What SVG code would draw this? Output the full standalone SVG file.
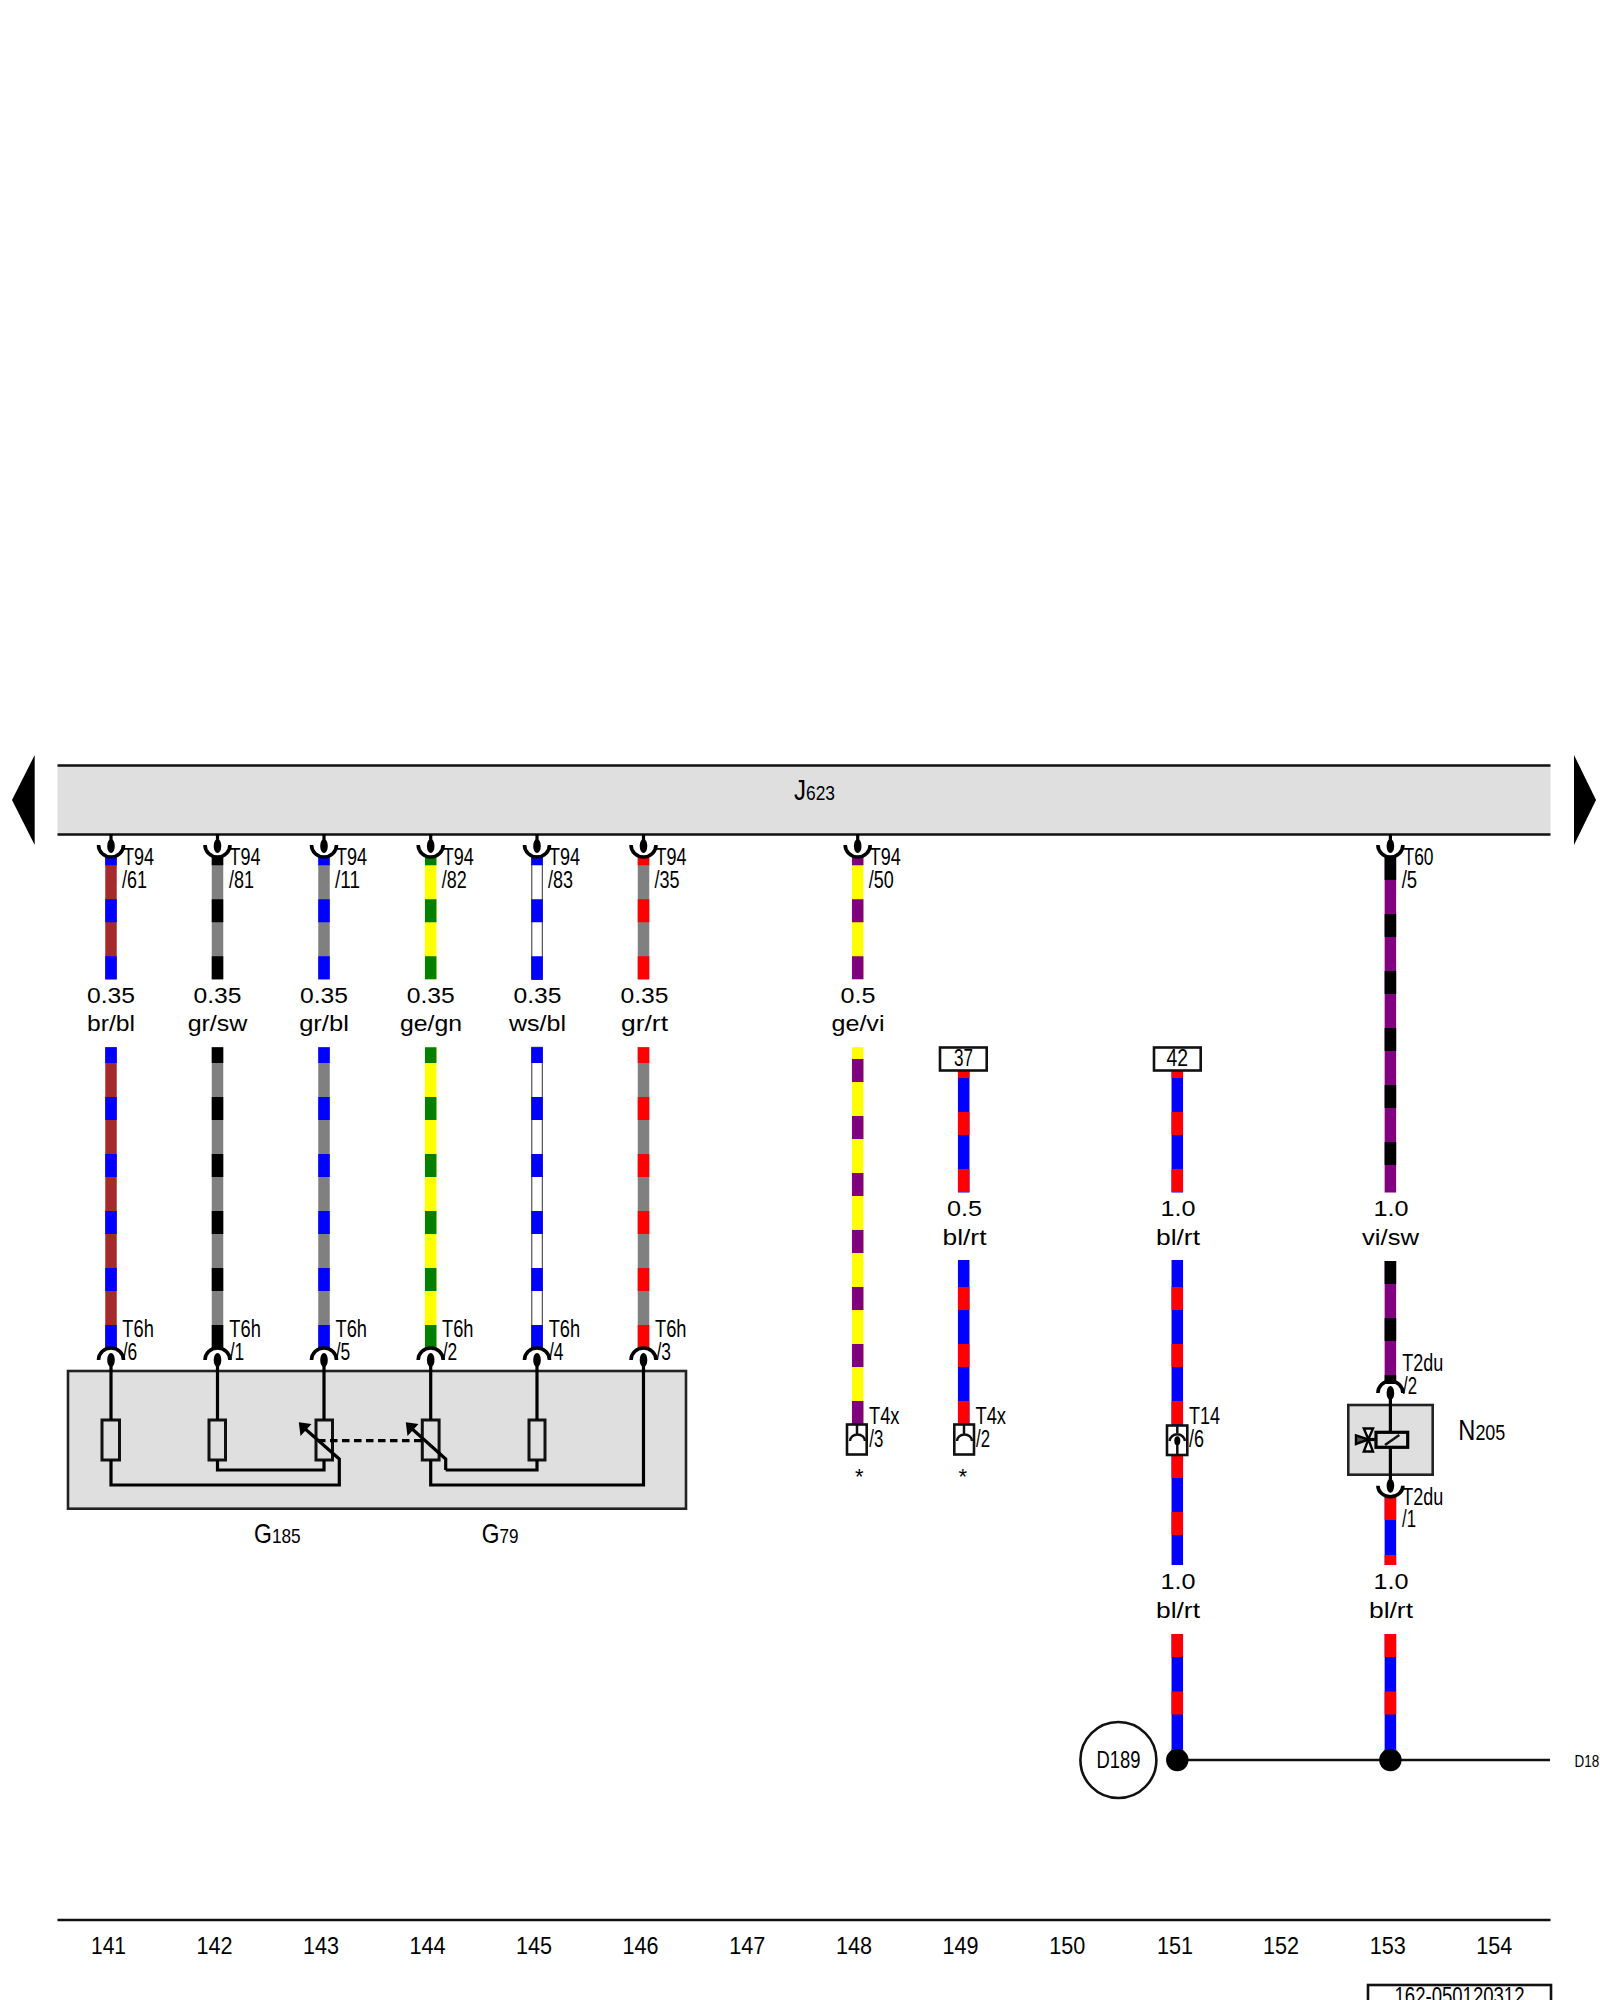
<svg xmlns="http://www.w3.org/2000/svg" xmlns:xlink="http://www.w3.org/1999/xlink" width="1600" height="2000" viewBox="0 0 1600 2000">
<style>
text{font-family:"Liberation Sans",Arial,sans-serif;fill:#000}
.t{font-size:23px}
.s{font-size:21.5px;text-anchor:middle}
.n{font-size:23px;text-anchor:middle}
.w{stroke-width:11.5;fill:none}
.bl{stroke:#0000ff}.br{stroke:#a52a2a}.gr{stroke:#808080}.sw{stroke:#000}.ge{stroke:#ffff00}.gn{stroke:#008000}.ws{stroke:#fff}.rt{stroke:#ff0000}.vi{stroke:#800080}
.up{stroke-dasharray:23 34;stroke-dashoffset:13.7}
.lo{stroke-dasharray:23 34;stroke-dashoffset:7.3}
.k{stroke:#000;stroke-width:3.2;fill:none}
.h{stroke:#111;stroke-width:2.5;fill:none}
.b{stroke:#222;stroke-width:2.6;fill:#dfdfdf}
.r{stroke:#111;stroke-width:3;fill:#dfdfdf}
.c{stroke:#000;stroke-width:3.6;fill:none}
.e{fill:#000}
</style>
<defs>
<g id="pinU"><path class="c" d="M-12.5 0A12.5 12 0 0 0 12.5 0"/><ellipse class="e" cx="0" cy="1" rx="3.8" ry="7"/><line class="k" x1="0" y1="-11" x2="0" y2="0"/></g>
<g id="pinN"><path class="c" d="M-12.5 0A12.5 12 0 0 1 12.5 0"/><ellipse class="e" cx="0" cy="0" rx="3.8" ry="7"/></g>
</defs>
<rect width="1600" height="2000" fill="#fff"/>

<g id="J623">
<rect x="57.5" y="766" width="1493" height="68" fill="#dfdfdf"/>
<line class="h" x1="57.5" y1="765.5" x2="1550.5" y2="765.5"/>
<line class="h" x1="57.5" y1="834.5" x2="1550.5" y2="834.5"/>
<text x="794" y="800" textLength="41" lengthAdjust="spacingAndGlyphs"><tspan font-size="29">J</tspan><tspan font-size="21">623</tspan></text>
</g>
<g id="page-arrows">
<polygon points="12,800 34.7,755 34.7,845" fill="#000"/>
<polygon points="1596,800 1574,755 1574,845" fill="#000"/>
</g>

<g id="G185-G79">
<rect class="b" x="68" y="1371" width="618" height="137.7"/>
<rect class="r" x="102" y="1420" width="17.5" height="40"/>
<rect class="r" x="209" y="1420" width="16.5" height="40"/>
<rect class="r" x="316" y="1420" width="16.5" height="40"/>
<rect class="r" x="422.3" y="1420" width="16.8" height="40"/>
<rect class="r" x="529" y="1420" width="16" height="40"/>
<path class="k" d="M111 1360V1420M111 1460V1485H339.3V1459L303 1427"/>
<path class="k" d="M217.5 1360V1420M217.5 1460V1470H324V1460M324 1360V1420"/>
<path class="k" d="M430.7 1360V1420M430.7 1460V1485H643.5V1360M445.7 1470V1459L410 1427M445.7 1470H537V1460M537 1360V1420"/>
<polygon points="298.8,1422.3 311.5,1424 300.5,1436" fill="#000"/>
<polygon points="405.8,1422.3 418.5,1424 407.5,1436" fill="#000"/>
<line class="k" x1="318" y1="1440.7" x2="422" y2="1440.7" stroke-dasharray="7.5 4.5"/>
<text x="254" y="1542.7" textLength="46.7" lengthAdjust="spacingAndGlyphs"><tspan font-size="28">G</tspan><tspan font-size="21">185</tspan></text>
<text x="481.7" y="1542.7" textLength="36.7" lengthAdjust="spacingAndGlyphs"><tspan font-size="28">G</tspan><tspan font-size="21">79</tspan></text>
</g>

<g id="connectors">
<line class="w br" x1="111" y1="856" x2="111" y2="979.5"/><line class="w bl up" x1="111" y1="856" x2="111" y2="979.5"/>
<line class="w br" x1="111" y1="1047.3" x2="111" y2="1348.5"/><line class="w bl lo" x1="111" y1="1047.3" x2="111" y2="1348.5"/>
<line class="w gr" x1="217.5" y1="856" x2="217.5" y2="979.5"/><line class="w sw up" x1="217.5" y1="856" x2="217.5" y2="979.5"/>
<line class="w gr" x1="217.5" y1="1047.3" x2="217.5" y2="1348.5"/><line class="w sw lo" x1="217.5" y1="1047.3" x2="217.5" y2="1348.5"/>
<line class="w gr" x1="324" y1="856" x2="324" y2="979.5"/><line class="w bl up" x1="324" y1="856" x2="324" y2="979.5"/>
<line class="w gr" x1="324" y1="1047.3" x2="324" y2="1348.5"/><line class="w bl lo" x1="324" y1="1047.3" x2="324" y2="1348.5"/>
<line class="w ge" x1="430.7" y1="856" x2="430.7" y2="979.5"/><line class="w gn up" x1="430.7" y1="856" x2="430.7" y2="979.5"/>
<line class="w ge" x1="430.7" y1="1047.3" x2="430.7" y2="1348.5"/><line class="w gn lo" x1="430.7" y1="1047.3" x2="430.7" y2="1348.5"/>
<rect x="531.8" y="856" width="10.5" height="123.5" fill="#fff" stroke="#333" stroke-width="1"/><line class="w bl up" x1="537" y1="856" x2="537" y2="979.5"/>
<rect x="531.8" y="1047.3" width="10.5" height="301.2" fill="#fff" stroke="#333" stroke-width="1"/><line class="w bl lo" x1="537" y1="1047.3" x2="537" y2="1348.5"/>
<line class="w gr" x1="643.5" y1="856" x2="643.5" y2="979.5"/><line class="w rt up" x1="643.5" y1="856" x2="643.5" y2="979.5"/>
<line class="w gr" x1="643.5" y1="1047.3" x2="643.5" y2="1348.5"/><line class="w rt lo" x1="643.5" y1="1047.3" x2="643.5" y2="1348.5"/>
<line class="w ge" x1="857.7" y1="856" x2="857.7" y2="979.5"/><line class="w vi up" x1="857.7" y1="856" x2="857.7" y2="979.5"/>
<line class="w ge" x1="857.7" y1="1047.3" x2="857.7" y2="1424"/><line class="w vi" x1="857.7" y1="1047.3" x2="857.7" y2="1424" stroke-dasharray="23 34" stroke-dashoffset="45.3"/>
<line class="w bl" x1="963.7" y1="1070" x2="963.7" y2="1192.6"/><line class="w rt" x1="963.7" y1="1070" x2="963.7" y2="1192.6" stroke-dasharray="23 34" stroke-dashoffset="15"/>
<line class="w bl" x1="963.7" y1="1260" x2="963.7" y2="1424"/><line class="w rt" x1="963.7" y1="1260" x2="963.7" y2="1424" stroke-dasharray="23 34" stroke-dashoffset="30"/>
<line class="w bl" x1="1177.3" y1="1070" x2="1177.3" y2="1192.6"/><line class="w rt" x1="1177.3" y1="1070" x2="1177.3" y2="1192.6" stroke-dasharray="23 34" stroke-dashoffset="15"/>
<line class="w bl" x1="1177.3" y1="1260" x2="1177.3" y2="1425"/><line class="w rt" x1="1177.3" y1="1260" x2="1177.3" y2="1425" stroke-dasharray="23 34" stroke-dashoffset="30"/>
<line class="w bl" x1="1177.3" y1="1455" x2="1177.3" y2="1565"/><line class="w rt" x1="1177.3" y1="1455" x2="1177.3" y2="1565" stroke-dasharray="23 34"/>
<line class="w bl" x1="1177.3" y1="1634" x2="1177.3" y2="1760"/><line class="w rt" x1="1177.3" y1="1634" x2="1177.3" y2="1760" stroke-dasharray="23 34.5"/>
<line class="w vi" x1="1390.4" y1="857" x2="1390.4" y2="1192.6"/><line class="w sw" x1="1390.4" y1="857" x2="1390.4" y2="1192.6" stroke-dasharray="23 34"/>
<line class="w vi" x1="1390.4" y1="1261" x2="1390.4" y2="1384"/><line class="w sw" x1="1390.4" y1="1261" x2="1390.4" y2="1384" stroke-dasharray="23 34"/>
<line class="w bl" x1="1390.4" y1="1495" x2="1390.4" y2="1565"/><line class="w rt" x1="1390.4" y1="1495" x2="1390.4" y2="1565" stroke-dasharray="25 35"/>
<line class="w bl" x1="1390.4" y1="1634" x2="1390.4" y2="1760"/><line class="w rt" x1="1390.4" y1="1634" x2="1390.4" y2="1760" stroke-dasharray="23 34.5"/>
<line class="h" x1="1177.3" y1="1760" x2="1550" y2="1760"/>
</g>

<g id="connector-T94">
<use xlink:href="#pinU" href="#pinU" x="111" y="845"/>
<use xlink:href="#pinU" href="#pinU" x="217.5" y="845"/>
<use xlink:href="#pinU" href="#pinU" x="324" y="845"/>
<use xlink:href="#pinU" href="#pinU" x="430.7" y="845"/>
<use xlink:href="#pinU" href="#pinU" x="537" y="845"/>
<use xlink:href="#pinU" href="#pinU" x="643.5" y="845"/>
<use xlink:href="#pinU" href="#pinU" x="857.7" y="845"/>
<text class="t" x="123" y="865" textLength="31" lengthAdjust="spacingAndGlyphs">T94</text><text class="t" x="122" y="888.3" textLength="25" lengthAdjust="spacingAndGlyphs">/61</text>
<text class="t" x="229.5" y="865" textLength="31" lengthAdjust="spacingAndGlyphs">T94</text><text class="t" x="229" y="888.3" textLength="25" lengthAdjust="spacingAndGlyphs">/81</text>
<text class="t" x="336" y="865" textLength="31" lengthAdjust="spacingAndGlyphs">T94</text><text class="t" x="335" y="888.3" textLength="25" lengthAdjust="spacingAndGlyphs">/11</text>
<text class="t" x="442.7" y="865" textLength="31" lengthAdjust="spacingAndGlyphs">T94</text><text class="t" x="441.7" y="888.3" textLength="25" lengthAdjust="spacingAndGlyphs">/82</text>
<text class="t" x="549" y="865" textLength="31" lengthAdjust="spacingAndGlyphs">T94</text><text class="t" x="548" y="888.3" textLength="25" lengthAdjust="spacingAndGlyphs">/83</text>
<text class="t" x="655.5" y="865" textLength="31" lengthAdjust="spacingAndGlyphs">T94</text><text class="t" x="654.5" y="888.3" textLength="25" lengthAdjust="spacingAndGlyphs">/35</text>
<text class="t" x="869.7" y="865" textLength="31" lengthAdjust="spacingAndGlyphs">T94</text><text class="t" x="868.7" y="888.3" textLength="25" lengthAdjust="spacingAndGlyphs">/50</text>
</g>
<g id="connector-T60">
<use xlink:href="#pinU" href="#pinU" x="1390.4" y="845"/>
<text class="t" x="1403.5" y="865" textLength="30" lengthAdjust="spacingAndGlyphs">T60</text><text class="t" x="1401.7" y="888.3" textLength="15.5" lengthAdjust="spacingAndGlyphs">/5</text>
</g>

<g id="connector-T6h">
<use xlink:href="#pinN" href="#pinN" x="111" y="1360"/>
<use xlink:href="#pinN" href="#pinN" x="217.5" y="1360"/>
<use xlink:href="#pinN" href="#pinN" x="324" y="1360"/>
<use xlink:href="#pinN" href="#pinN" x="430.7" y="1360"/>
<use xlink:href="#pinN" href="#pinN" x="537" y="1360"/>
<use xlink:href="#pinN" href="#pinN" x="643.5" y="1360"/>
<text class="t" x="122.3" y="1336.7" textLength="31.5" lengthAdjust="spacingAndGlyphs">T6h</text><text class="t" x="122.7" y="1360" textLength="14.5" lengthAdjust="spacingAndGlyphs">/6</text>
<text class="t" x="229.3" y="1336.7" textLength="31.5" lengthAdjust="spacingAndGlyphs">T6h</text><text class="t" x="229.7" y="1360" textLength="14.5" lengthAdjust="spacingAndGlyphs">/1</text>
<text class="t" x="335.5" y="1336.7" textLength="31.5" lengthAdjust="spacingAndGlyphs">T6h</text><text class="t" x="335.7" y="1360" textLength="14.5" lengthAdjust="spacingAndGlyphs">/5</text>
<text class="t" x="442" y="1336.7" textLength="31.5" lengthAdjust="spacingAndGlyphs">T6h</text><text class="t" x="442.7" y="1360" textLength="14.5" lengthAdjust="spacingAndGlyphs">/2</text>
<text class="t" x="548.7" y="1336.7" textLength="31.5" lengthAdjust="spacingAndGlyphs">T6h</text><text class="t" x="549" y="1360" textLength="14.5" lengthAdjust="spacingAndGlyphs">/4</text>
<text class="t" x="655" y="1336.7" textLength="31.5" lengthAdjust="spacingAndGlyphs">T6h</text><text class="t" x="656.5" y="1360" textLength="14.5" lengthAdjust="spacingAndGlyphs">/3</text>
</g>

<g id="wire-labels">
<text class="s" x="111" y="1002.5" textLength="48" lengthAdjust="spacingAndGlyphs">0.35</text><text class="s" x="111" y="1030.7" textLength="48" lengthAdjust="spacingAndGlyphs">br/bl</text>
<text class="s" x="217.5" y="1002.5" textLength="48" lengthAdjust="spacingAndGlyphs">0.35</text><text class="s" x="217.5" y="1030.7" textLength="59.7" lengthAdjust="spacingAndGlyphs">gr/sw</text>
<text class="s" x="324" y="1002.5" textLength="48" lengthAdjust="spacingAndGlyphs">0.35</text><text class="s" x="324" y="1030.7" textLength="49.7" lengthAdjust="spacingAndGlyphs">gr/bl</text>
<text class="s" x="430.7" y="1002.5" textLength="48" lengthAdjust="spacingAndGlyphs">0.35</text><text class="s" x="431" y="1030.7" textLength="62" lengthAdjust="spacingAndGlyphs">ge/gn</text>
<text class="s" x="537.5" y="1002.5" textLength="48" lengthAdjust="spacingAndGlyphs">0.35</text><text class="s" x="537.5" y="1030.7" textLength="57" lengthAdjust="spacingAndGlyphs">ws/bl</text>
<text class="s" x="644.5" y="1002.5" textLength="48" lengthAdjust="spacingAndGlyphs">0.35</text><text class="s" x="644.5" y="1030.7" textLength="47" lengthAdjust="spacingAndGlyphs">gr/rt</text>
<text class="s" x="858" y="1002.5" textLength="35" lengthAdjust="spacingAndGlyphs">0.5</text><text class="s" x="858" y="1030.7" textLength="53" lengthAdjust="spacingAndGlyphs">ge/vi</text>
<text class="s" x="964.5" y="1215.7" textLength="35" lengthAdjust="spacingAndGlyphs">0.5</text><text class="s" x="964.5" y="1244.5" textLength="44" lengthAdjust="spacingAndGlyphs">bl/rt</text>
<text class="s" x="1178" y="1215.7" textLength="35" lengthAdjust="spacingAndGlyphs">1.0</text><text class="s" x="1178" y="1244.5" textLength="44" lengthAdjust="spacingAndGlyphs">bl/rt</text>
<text class="s" x="1391" y="1215.7" textLength="35" lengthAdjust="spacingAndGlyphs">1.0</text><text class="s" x="1390.5" y="1244.5" textLength="57" lengthAdjust="spacingAndGlyphs">vi/sw</text>
<text class="s" x="1178" y="1589" textLength="35" lengthAdjust="spacingAndGlyphs">1.0</text><text class="s" x="1178" y="1617.5" textLength="44" lengthAdjust="spacingAndGlyphs">bl/rt</text>
<text class="s" x="1391" y="1589" textLength="35" lengthAdjust="spacingAndGlyphs">1.0</text><text class="s" x="1391" y="1617.5" textLength="44" lengthAdjust="spacingAndGlyphs">bl/rt</text>
</g>

<g id="ref-37">
<rect x="940" y="1047.5" width="46.7" height="23" fill="#fff" stroke="#111" stroke-width="2.6"/>
<text class="n" x="963.5" y="1066" textLength="19" lengthAdjust="spacingAndGlyphs">37</text>
</g>
<g id="ref-42">
<rect x="1154" y="1047.5" width="46.7" height="23" fill="#fff" stroke="#111" stroke-width="2.6"/>
<text class="n" x="1177.3" y="1066" textLength="21.5" lengthAdjust="spacingAndGlyphs">42</text>
</g>

<g id="T4x-3">
<rect x="847" y="1424.5" width="19.7" height="30" fill="#fff" stroke="#111" stroke-width="2.6"/>
<path class="h" d="M857 1424.5V1435M850 1441A7.5 6.5 0 0 1 865 1441"/>
<text class="t" x="869" y="1423.8" textLength="30.5" lengthAdjust="spacingAndGlyphs">T4x</text>
<text class="t" x="869.3" y="1446.7" textLength="14" lengthAdjust="spacingAndGlyphs">/3</text>
<text x="859.3" y="1483.7" font-size="22" text-anchor="middle">*</text>
</g>
<g id="T4x-2">
<rect x="954.3" y="1424.5" width="19.7" height="30" fill="#fff" stroke="#111" stroke-width="2.6"/>
<path class="h" d="M964 1424.5V1435M957 1441A7.5 6.5 0 0 1 972 1441"/>
<text class="t" x="975.5" y="1423.8" textLength="30.5" lengthAdjust="spacingAndGlyphs">T4x</text>
<text class="t" x="976" y="1446.7" textLength="14" lengthAdjust="spacingAndGlyphs">/2</text>
<text x="962.7" y="1483.7" font-size="22" text-anchor="middle">*</text>
</g>
<g id="T14-6">
<rect x="1167" y="1425.5" width="20.3" height="29.5" fill="#fff" stroke="#111" stroke-width="2.6"/>
<path class="h" d="M1177.3 1425.5V1433M1169.5 1441A7.8 7.5 0 0 1 1185 1441M1177.3 1441V1455"/>
<ellipse class="e" cx="1177.3" cy="1440.7" rx="3" ry="4.5"/>
<text class="t" x="1189" y="1424" textLength="31" lengthAdjust="spacingAndGlyphs">T14</text>
<text class="t" x="1189" y="1446.7" textLength="15" lengthAdjust="spacingAndGlyphs">/6</text>
</g>

<g id="N205">
<rect class="b" x="1348.3" y="1405" width="84.4" height="69.7"/>
<line class="k" x1="1390.4" y1="1394" x2="1390.4" y2="1485"/>
<rect x="1376" y="1432.3" width="31.7" height="15" fill="#dfdfdf" stroke="#000" stroke-width="3.2"/>
<line class="h" x1="1385" y1="1445" x2="1399.3" y2="1435"/>
<line class="k" x1="1368.3" y1="1439.5" x2="1376" y2="1439.5"/>
<polygon points="1363.8,1428.5 1373,1428.5 1368.4,1439.3" fill="#eee" stroke="#000" stroke-width="2.4"/>
<polygon points="1363.8,1451.5 1373,1451.5 1368.4,1439.3" fill="#eee" stroke="#000" stroke-width="2.4"/>
<polygon points="1356,1435.3 1356,1444 1368.4,1439.5" fill="#555" stroke="#000" stroke-width="2.4"/>
<use xlink:href="#pinN" href="#pinN" x="1390.4" y="1393"/>
<g transform="translate(1390.4 1485.7)"><path class="c" d="M-12.5 0A12.5 11 0 0 0 12.5 0"/><ellipse class="e" cx="0" cy="0" rx="3.8" ry="7"/></g>
<text x="1458.3" y="1440" textLength="47" lengthAdjust="spacingAndGlyphs"><tspan font-size="29">N</tspan><tspan font-size="22">205</tspan></text>
<text class="t" x="1402.3" y="1370.7" textLength="41" lengthAdjust="spacingAndGlyphs">T2du</text>
<text class="t" x="1403" y="1394" textLength="14" lengthAdjust="spacingAndGlyphs">/2</text>
<text class="t" x="1402.3" y="1505" textLength="41" lengthAdjust="spacingAndGlyphs">T2du</text>
<text class="t" x="1402" y="1527.3" textLength="14" lengthAdjust="spacingAndGlyphs">/1</text>
</g>

<g id="D189">
<circle cx="1118.4" cy="1760" r="38" fill="#fff" stroke="#111" stroke-width="2.6"/>
<text class="n" x="1118.4" y="1767.5" textLength="44" lengthAdjust="spacingAndGlyphs">D189</text>
<circle class="e" cx="1177.3" cy="1760" r="11.2"/>
<circle class="e" cx="1390.4" cy="1760" r="11.2"/>
<text x="1574.6" y="1766.7" font-size="17" textLength="24.7" lengthAdjust="spacingAndGlyphs">D18</text>
</g>

<g id="footer">
<line class="h" x1="57.5" y1="1920" x2="1550.5" y2="1920"/>
<text class="n" x="108.5" y="1954" textLength="35" lengthAdjust="spacingAndGlyphs">141</text>
<text class="n" x="214.5" y="1954" textLength="36" lengthAdjust="spacingAndGlyphs">142</text>
<text class="n" x="320.9" y="1954" textLength="36" lengthAdjust="spacingAndGlyphs">143</text>
<text class="n" x="427.5" y="1954" textLength="36" lengthAdjust="spacingAndGlyphs">144</text>
<text class="n" x="534" y="1954" textLength="36" lengthAdjust="spacingAndGlyphs">145</text>
<text class="n" x="640.6" y="1954" textLength="36" lengthAdjust="spacingAndGlyphs">146</text>
<text class="n" x="747.3" y="1954" textLength="36" lengthAdjust="spacingAndGlyphs">147</text>
<text class="n" x="853.9" y="1954" textLength="36" lengthAdjust="spacingAndGlyphs">148</text>
<text class="n" x="960.5" y="1954" textLength="36" lengthAdjust="spacingAndGlyphs">149</text>
<text class="n" x="1067.2" y="1954" textLength="36" lengthAdjust="spacingAndGlyphs">150</text>
<text class="n" x="1175" y="1954" textLength="36" lengthAdjust="spacingAndGlyphs">151</text>
<text class="n" x="1281" y="1954" textLength="36" lengthAdjust="spacingAndGlyphs">152</text>
<text class="n" x="1387.7" y="1954" textLength="36" lengthAdjust="spacingAndGlyphs">153</text>
<text class="n" x="1494.3" y="1954" textLength="36" lengthAdjust="spacingAndGlyphs">154</text>
<rect x="1368" y="1985" width="183" height="30" fill="#fff" stroke="#111" stroke-width="2.6"/>
<text class="n" x="1459.5" y="2003.7" textLength="130" lengthAdjust="spacingAndGlyphs">162-050120312</text>
</g>
</svg>
